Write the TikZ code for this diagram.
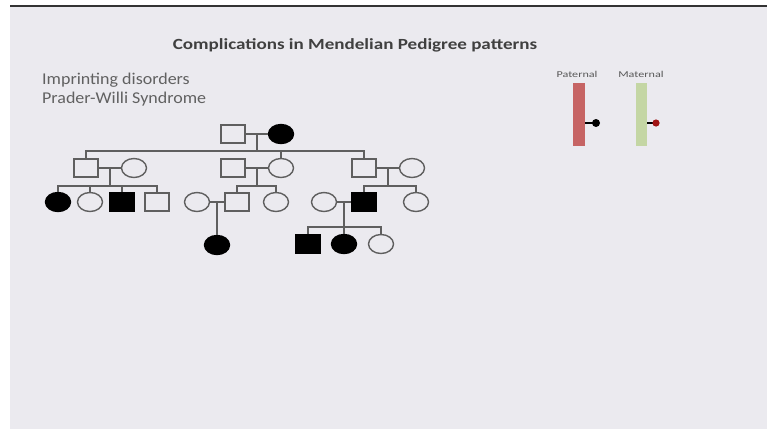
\documentclass[tikz,border=0pt]{standalone}
\usepackage{fontspec}
\setmainfont{Carlito}
\usetikzlibrary{shapes.geometric,calc}
\definecolor{slidebg}{RGB}{235,234,239}
\definecolor{pedline}{RGB}{95,95,95}
\definecolor{patbar}{RGB}{198,100,100}
\definecolor{matbar}{RGB}{196,214,164}
\definecolor{dotred}{RGB}{160,20,20}
\tikzset{
  male/.style={draw=pedline, rectangle, line width=1.4pt, inner sep=0pt,
    minimum width=24pt, minimum height=18pt},
  female/.style={draw=pedline, ellipse, line width=1.4pt, inner sep=0pt,
    minimum width=25pt, minimum height=19pt},
  hit/.style={fill=black, draw=black},
  link/.style={draw=pedline, line width=1.4pt}
}
\newcommand{\wide}[2]{\scalebox{#1}[1]{#2}}
\begin{document}
\begin{tikzpicture}[x=1pt, y=-1pt]
  \useasboundingbox (0,0) rectangle (767,434);
  % slide
  \fill[white] (0,0) rectangle (767,434);
  \fill[slidebg] (10,7) rectangle (767,429);
  \draw[line width=2pt, color=black!80] (10,6) -- (767,6);

  % texts
  \node[font=\bfseries\fontsize{15.5}{18}\selectfont, text=black!75] (title) at (355,45) {\wide{1.23}{Complications in Mendelian Pedigree patterns}};
  \node[anchor=west, inner sep=0pt, font=\fontsize{16.5}{19}\selectfont, text=black!62] (dis) at (42,80) {\wide{1.09}{Imprinting disorders}};
  \node[anchor=west, inner sep=0pt, font=\fontsize{16.5}{19}\selectfont, text=black!62] (pws) at (42,99) {\wide{1.09}{Prader-Willi Syndrome}};

  % generation I
  \node[male] (I1) at (233,134) {};
  \node[female, hit] (I2) at (281,134) {};

  % generation II
  \node[male] (IIa) at (86,168) {};
  \node[female] (IIb) at (134,168) {};
  \node[male] (IIc) at (233,168) {};
  \node[female] (IId) at (281,168) {};
  \node[male] (IIe) at (364,168) {};
  \node[female] (IIf) at (412,168) {};

  % generation III
  \node[female, hit] (IIIa) at (58,202) {};
  \node[female] (IIIb) at (90,202) {};
  \node[male, hit] (IIIc) at (122,202) {};
  \node[male] (IIId) at (157,202) {};
  \node[female] (IIIe) at (197,202) {};
  \node[male] (IIIf) at (237,202) {};
  \node[female] (IIIg) at (276,202) {};
  \node[female] (IIIh) at (324,202) {};
  \node[male, hit] (IIIi) at (364,202) {};
  \node[female] (IIIj) at (416,202) {};

  % generation IV
  \node[female, hit] (IVa) at (217,245) {};
  \node[male, hit] (IVb) at (308,244) {};
  \node[female, hit] (IVc) at (344,244) {};
  \node[female] (IVd) at (381,244) {};

  % sibship lines
  \coordinate (s1) at (0,151);
  \coordinate (s2) at (0,186);
  \coordinate (s3) at (0,227);

  % couples
  \foreach \m/\f/\n in {I1/I2/c1, IIa/IIb/c2, IIc/IId/c3, IIe/IIf/c4, IIIe/IIIf/c5, IIIh/IIIi/c6}{
    \path[link] (\m) -- (\f);
    \coordinate (\n) at ($(\m)!0.5!(\f)$);
  }

  % I -> II
  \path[link] (c1) -- (c1 |- s1);
  \path[link] (IIa.north) |- (IIe.north |- s1) -- (IIe.north);
  \path[link] (IId.north) -- (IId.north |- s1);

  % II -> III
  \path[link] (c2) -- (c2 |- s2);
  \path[link] (IIIa.north) |- (IIId.north |- s2) -- (IIId.north);
  \foreach \c in {IIIb,IIIc}
    \path[link] (\c.north) -- (\c.north |- s2);
  \path[link] (c3) -- (c3 |- s2);
  \path[link] (IIIf.north) |- (IIIg.north |- s2) -- (IIIg.north);
  \path[link] (c4) -- (c4 |- s2);
  \path[link] (IIIi.north) |- (IIIj.north |- s2) -- (IIIj.north);

  % III -> IV
  \path[link] (c5) -- (IVa.north);
  \path[link] (c6) -- (c6 |- s3);
  \path[link] (IVb.north) |- (IVd.north |- s3) -- (IVd.north);
  \path[link] (IVc.north) -- (IVc.north |- s3);

  % chromosomes
  \node[font=\fontsize{9}{10}\selectfont, text=black!65] (pat) at (577,74) {\wide{1.35}{Paternal}};
  \node[font=\fontsize{9}{10}\selectfont, text=black!65] (mat) at (641,74) {\wide{1.35}{Maternal}};
  \fill[patbar] (573,83) rectangle (585,146);
  \fill[matbar] (636,83) rectangle (647,146);
  \draw[line width=1.6pt] (585,123) -- (594,123);
  \fill[black] (596,123) circle (4);
  \draw[line width=1.6pt] (647,123) -- (653,123);
  \fill[dotred] (656,123) circle (3.6);
\end{tikzpicture}
\end{document}
